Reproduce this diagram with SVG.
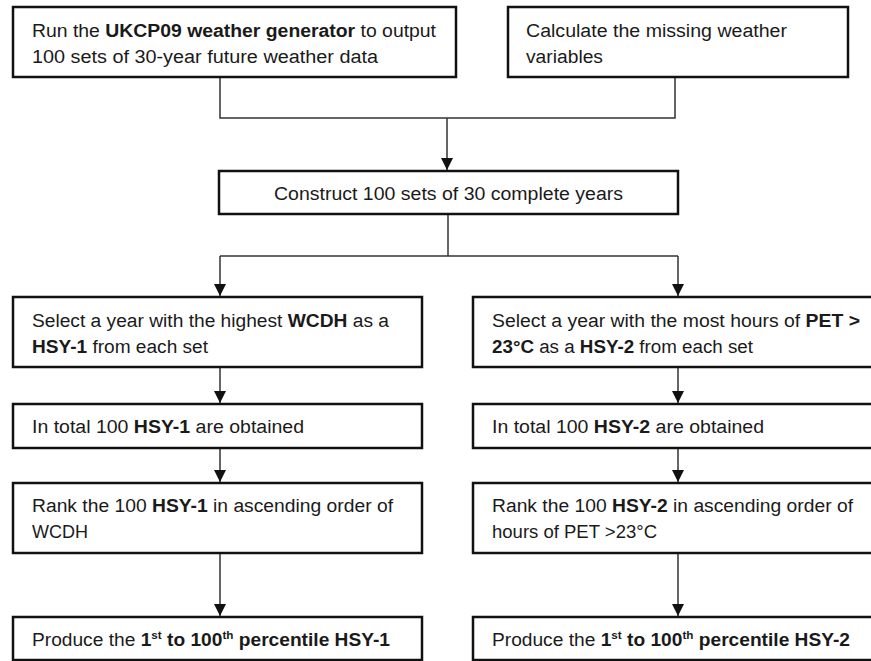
<svg xmlns="http://www.w3.org/2000/svg" width="871" height="661" viewBox="0 0 871 661">
<style>
  .box { fill: #ffffff; stroke: #111111; stroke-width: 2.5; }
  .t { font-family: "Liberation Sans", Arial, sans-serif; font-size: 18px; fill: #1a1a1a; }
  .b { font-weight: bold; }
  .sup { font-size: 11px; }
  .conn { fill: none; stroke: #333333; stroke-width: 1.5; }
</style>
<defs>
  <marker id="arrow" viewBox="0 0 12 12" refX="12" refY="6" markerWidth="12" markerHeight="12" markerUnits="userSpaceOnUse" orient="auto">
    <path d="M0,0 L12,6 L0,12 z" fill="#111111"/>
  </marker>
</defs>
<rect width="871" height="661" fill="#ffffff"/>

<g id="connectors">
  <polyline class="conn" points="220,77 220,118 675,118 675,77"/>
  <line class="conn" x1="447" y1="118" x2="447" y2="170" marker-end="url(#arrow)"/>
  <line class="conn" x1="448" y1="214" x2="448" y2="256"/>
  <line class="conn" x1="220" y1="256" x2="678" y2="256"/>
  <line class="conn" x1="220" y1="256" x2="220" y2="296" marker-end="url(#arrow)"/>
  <line class="conn" x1="678" y1="256" x2="678" y2="296" marker-end="url(#arrow)"/>
  <line class="conn" x1="220" y1="367" x2="220" y2="403" marker-end="url(#arrow)"/>
  <line class="conn" x1="678" y1="367" x2="678" y2="403" marker-end="url(#arrow)"/>
  <line class="conn" x1="220" y1="448" x2="220" y2="482" marker-end="url(#arrow)"/>
  <line class="conn" x1="678" y1="448" x2="678" y2="482" marker-end="url(#arrow)"/>
  <line class="conn" x1="220" y1="553" x2="220" y2="616" marker-end="url(#arrow)"/>
  <line class="conn" x1="678" y1="553" x2="678" y2="616" marker-end="url(#arrow)"/>
</g>

<g id="node-generator">
  <rect class="box" x="13" y="7" width="443" height="70"/>
  <text class="t" x="32" y="37" textLength="404" lengthAdjust="spacingAndGlyphs">Run the <tspan class="b">UKCP09 weather generator</tspan> to output</text>
  <text class="t" x="32" y="63" textLength="346" lengthAdjust="spacingAndGlyphs">100 sets of 30-year future weather data</text>
</g>

<g id="node-missing">
  <rect class="box" x="508" y="7" width="340" height="70"/>
  <text class="t" x="526" y="37" textLength="261" lengthAdjust="spacingAndGlyphs">Calculate the missing weather</text>
  <text class="t" x="526" y="63" textLength="77" lengthAdjust="spacingAndGlyphs">variables</text>
</g>

<g id="node-construct">
  <rect class="box" x="219" y="171" width="459" height="43"/>
  <text class="t" x="274" y="200" textLength="349" lengthAdjust="spacingAndGlyphs">Construct 100 sets of 30 complete years</text>
</g>

<g id="node-select1">
  <rect class="box" x="13" y="297" width="409" height="70"/>
  <text class="t" x="32" y="327" textLength="357" lengthAdjust="spacingAndGlyphs">Select a year with the highest <tspan class="b">WCDH</tspan> as a</text>
  <text class="t" x="32" y="353" textLength="176" lengthAdjust="spacingAndGlyphs"><tspan class="b">HSY-1</tspan> from each set</text>
</g>

<g id="node-select2">
  <rect class="box" x="473" y="297" width="402" height="70"/>
  <text class="t" x="492" y="327" textLength="368" lengthAdjust="spacingAndGlyphs">Select a year with the most hours of <tspan class="b">PET &gt;</tspan></text>
  <text class="t" x="492" y="353" textLength="261" lengthAdjust="spacingAndGlyphs"><tspan class="b">23°C</tspan> as a <tspan class="b">HSY-2</tspan> from each set</text>
</g>

<g id="node-total1">
  <rect class="box" x="13" y="404" width="409" height="44"/>
  <text class="t" x="32" y="433" textLength="272" lengthAdjust="spacingAndGlyphs">In total 100 <tspan class="b">HSY-1</tspan> are obtained</text>
</g>

<g id="node-total2">
  <rect class="box" x="473" y="404" width="402" height="44"/>
  <text class="t" x="492" y="433" textLength="272" lengthAdjust="spacingAndGlyphs">In total 100 <tspan class="b">HSY-2</tspan> are obtained</text>
</g>

<g id="node-rank1">
  <rect class="box" x="13" y="483" width="409" height="70"/>
  <text class="t" x="32" y="512" textLength="361" lengthAdjust="spacingAndGlyphs">Rank the 100 <tspan class="b">HSY-1</tspan> in ascending order of</text>
  <text class="t" x="32" y="538" textLength="56" lengthAdjust="spacingAndGlyphs">WCDH</text>
</g>

<g id="node-rank2">
  <rect class="box" x="473" y="483" width="402" height="70"/>
  <text class="t" x="492" y="512" textLength="361" lengthAdjust="spacingAndGlyphs">Rank the 100 <tspan class="b">HSY-2</tspan> in ascending order of</text>
  <text class="t" x="492" y="538" textLength="165" lengthAdjust="spacingAndGlyphs">hours of PET &gt;23°C</text>
</g>

<g id="node-produce1">
  <rect class="box" x="13" y="617" width="409" height="43"/>
  <text class="t" x="32" y="646" textLength="358" lengthAdjust="spacingAndGlyphs">Produce the <tspan class="b">1<tspan class="sup" dy="-7">st</tspan><tspan dy="7"> to 100</tspan><tspan class="sup" dy="-7">th</tspan><tspan dy="7"> percentile HSY-1</tspan></tspan></text>
</g>

<g id="node-produce2">
  <rect class="box" x="473" y="617" width="402" height="43"/>
  <text class="t" x="492" y="646" textLength="358" lengthAdjust="spacingAndGlyphs">Produce the <tspan class="b">1<tspan class="sup" dy="-7">st</tspan><tspan dy="7"> to 100</tspan><tspan class="sup" dy="-7">th</tspan><tspan dy="7"> percentile HSY-2</tspan></tspan></text>
</g>
</svg>
